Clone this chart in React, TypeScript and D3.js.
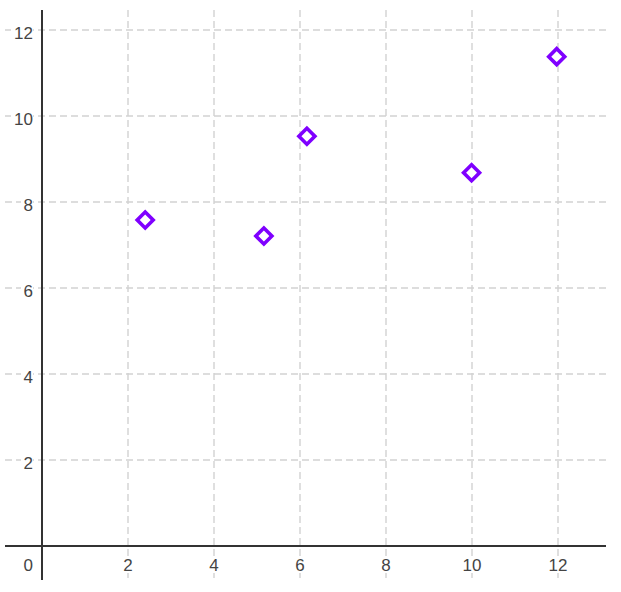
import * as d3 from "d3";
import { useEffect, useRef } from "react";

const xValues = [2.4, 5.16, 6.16, 9.99, 11.97];
const yValues = [7.58, 7.21, 9.53, 8.68, 11.38];
const xTicks = [2, 4, 6, 8, 10, 12];
const yTicks = [2, 4, 6, 8, 10, 12];

const WIDTH = 621;
const HEIGHT = 592;
const ORIGIN = { x: 42, y: 546 };
const UNIT = 43;
const MARKER = "#7f00ff";
const GRID = "#d2d2d2";
const TEXT = "#444";

export default function App() {
  const svgRef = useRef<SVGSVGElement | null>(null);

  useEffect(() => {
    if (!svgRef.current) return;
    const svg = d3.select(svgRef.current);
    svg.selectAll("*").remove();

    const left = 5;
    const right = 606;
    const top = 10;
    const bottom = 580;

    const x = d3
      .scaleLinear()
      .domain([(left - ORIGIN.x) / UNIT, (right - ORIGIN.x) / UNIT])
      .range([left, right]);
    const y = d3
      .scaleLinear()
      .domain([(ORIGIN.y - bottom) / UNIT, (ORIGIN.y - top) / UNIT])
      .range([bottom, top]);

    svg.append("rect").attr("width", WIDTH).attr("height", HEIGHT).attr("fill", "#fff");

    const grid = svg
      .append("g")
      .attr("stroke", GRID)
      .attr("stroke-width", 1.4)
      .attr("stroke-dasharray", "7,4");

    grid
      .selectAll("line.v")
      .data(xTicks)
      .join("line")
      .attr("class", "v")
      .attr("x1", (d) => x(d))
      .attr("x2", (d) => x(d))
      .attr("y1", top)
      .attr("y2", bottom);

    grid
      .selectAll("line.h")
      .data(yTicks)
      .join("line")
      .attr("class", "h")
      .attr("x1", left)
      .attr("x2", right)
      .attr("y1", (d) => y(d))
      .attr("y2", (d) => y(d));

    const font = "Arial, 'Liberation Sans', sans-serif";
    const fs = 17;

    // x labels
    const xl = svg.append("g");
    xl.selectAll("rect")
      .data(xTicks)
      .join("rect")
      .attr("x", (d) => x(d) - (d >= 10 ? 12 : 6))
      .attr("y", y(0) + 11)
      .attr("width", (d) => (d >= 10 ? 24 : 12))
      .attr("height", 16)
      .attr("fill", "#fff");
    xl.selectAll("text")
      .data(xTicks)
      .join("text")
      .attr("x", (d) => x(d))
      .attr("y", y(0) + 25)
      .attr("text-anchor", "middle")
      .attr("font-family", font)
      .attr("font-size", fs)
      .attr("fill", TEXT)
      .text((d) => String(d));

    // y labels
    const yl = svg.append("g");
    yl.selectAll("rect")
      .data(yTicks)
      .join("rect")
      .attr("x", (d) => x(0) - 9 - (d >= 10 ? 22 : 12))
      .attr("y", (d) => y(d) - 8)
      .attr("width", (d) => (d >= 10 ? 22 : 12))
      .attr("height", 16)
      .attr("fill", "#fff");
    yl.selectAll("text")
      .data(yTicks)
      .join("text")
      .attr("x", x(0) - 9)
      .attr("y", (d) => y(d) + 9)
      .attr("text-anchor", "end")
      .attr("font-family", font)
      .attr("font-size", fs)
      .attr("fill", TEXT)
      .text((d) => String(d));

    svg
      .append("text")
      .attr("x", x(0) - 9)
      .attr("y", y(0) + 25)
      .attr("text-anchor", "end")
      .attr("font-family", font)
      .attr("font-size", fs)
      .attr("fill", TEXT)
      .text("0");

    // axes
    const axes = svg.append("g").attr("stroke", "#333").attr("stroke-width", 2);
    axes.append("line").attr("x1", left).attr("x2", right).attr("y1", y(0)).attr("y2", y(0));
    axes.append("line").attr("x1", x(0)).attr("x2", x(0)).attr("y1", top).attr("y2", bottom);

    // points
    const symbol = d3.symbol().type(d3.symbolSquare).size(128);
    svg
      .append("g")
      .selectAll("path")
      .data(xValues.map((v, i) => [v, yValues[i]]))
      .join("path")
      .attr("d", symbol() as string)
      .attr("transform", (d) => `translate(${x(d[0])},${y(d[1])}) rotate(45)`)
      .attr("fill", "#fff")
      .attr("stroke", MARKER)
      .attr("stroke-width", 3.6);
  }, []);

  return (
    <svg
      ref={svgRef}
      width={WIDTH}
      height={HEIGHT}
      style={{ position: "absolute", left: 0, top: 0 }}
    />
  );
}
